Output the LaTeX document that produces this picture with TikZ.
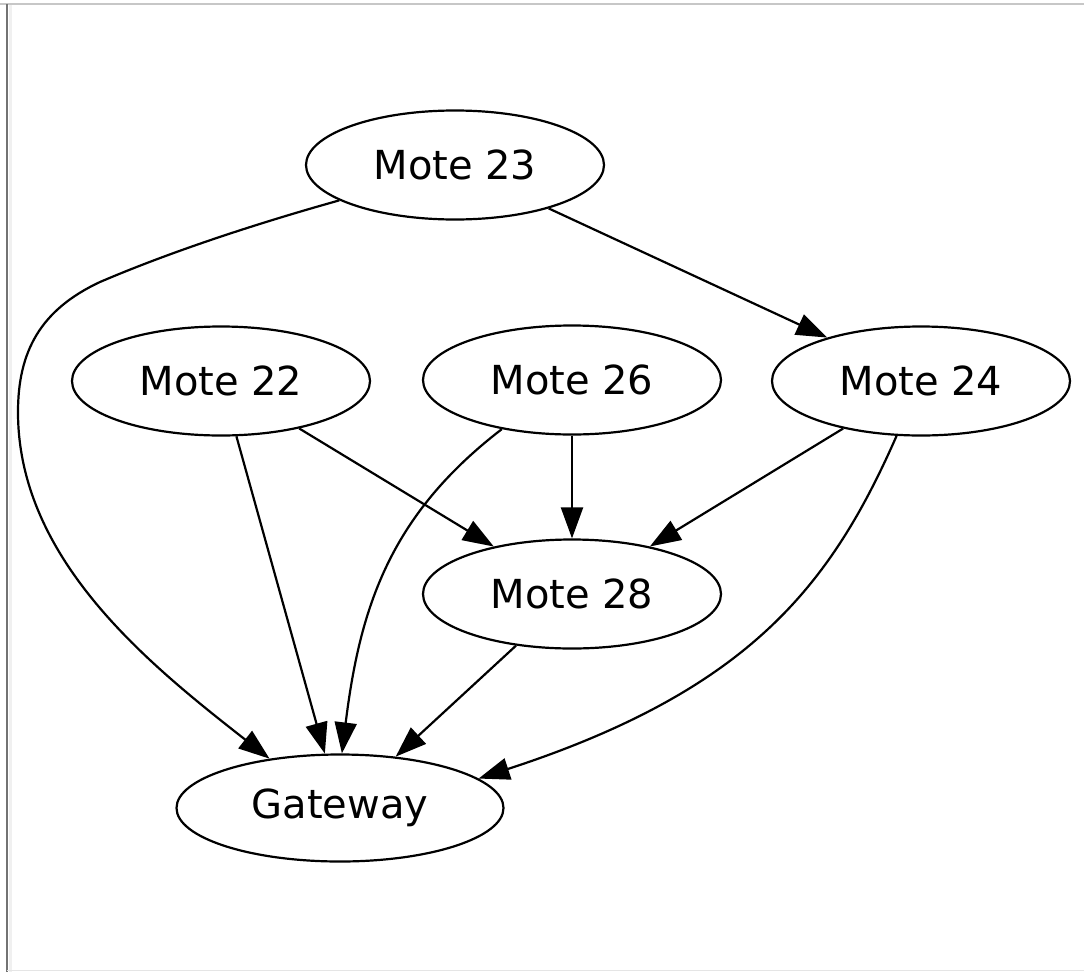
\documentclass[tikz,border=0pt]{standalone}
\usepackage{fontspec}
\newfontfamily\djv{DejaVu Sans}
\usetikzlibrary{shapes.geometric,arrows.meta}
\begin{document}
\begin{tikzpicture}[x=1pt,y=-1pt,
  mote/.style={ellipse, draw, line width=2.2pt, minimum width=298pt, minimum height=109pt, inner sep=0pt, font=\djv\fontsize{40}{48}\selectfont},
  edge/.style={line width=2.2pt, -{Triangle[length=31pt,width=22pt]}}]
\useasboundingbox (0,0) rectangle (1084,972);
% screenshot frame
\fill[black!6] (8.5,5) rectangle (12,972);
\draw[line width=2pt, black!22] (0,4) -- (1084,4);
\draw[line width=1.6pt, black!55] (7,4) -- (7,972);
\draw[line width=1pt, black!10] (7,970) -- (1084,970);
% nodes
\node[mote] (m23) at (455,165) {Mote 23};
\node[mote] (m22) at (221,381) {Mote 22};
\node[mote] (m26) at (572,380) {Mote 26};
\node[mote] (m24) at (921,381) {Mote 24};
\node[mote] (m28) at (572,594) {Mote 28};
\node[mote, minimum width=327pt, minimum height=107pt] (gw) at (340,808) {Gateway};
% edges
\draw[edge] (m23) -- (m24);
\draw[edge] (m22) -- (m28);
\draw[edge] (m22) -- (gw);
\draw[edge] (m26) -- (m28);
\draw[edge] (m24) -- (m28);
\draw[edge] (m28) -- (gw);
\draw[edge] (m26.215) .. controls (390,515) and (360,607) .. (gw.88);
\draw[edge] (m24.246) .. controls (831,585) and (750,690) .. (gw.12);
\draw[edge] (m23.197) .. controls (255,224) and (170,252) .. (100,282)
   .. controls (40,310) and (18,352) .. (18,412)
   .. controls (18,560) and (150,665) .. (gw.145);
\end{tikzpicture}
\end{document}
